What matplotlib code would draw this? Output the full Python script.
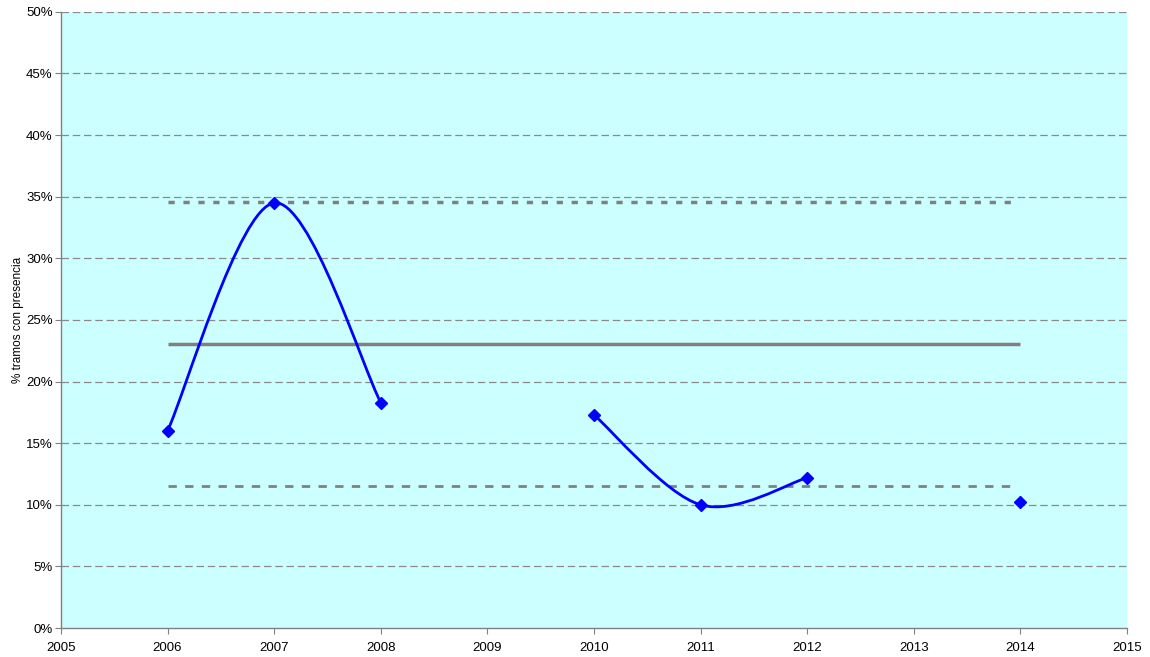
import numpy as np
import matplotlib.pyplot as plt
from matplotlib.path import Path
from matplotlib.patches import PathPatch
from matplotlib.ticker import FuncFormatter

# data (percent)
years_a = [2006, 2007, 2008]
pct_a = [16.0, 34.5, 18.3]
years_b = [2010, 2011, 2012]
pct_b = [17.3, 10.0, 12.2]
years_c = [2014]
pct_c = [10.2]

ref_years = [2006, 2014]
dash_years = [2006, 2013.95]
mean_pct = 23.05
upper_pct = 34.6
lower_pct = 11.5

plt.rcParams['font.family'] = ['Liberation Sans', 'DejaVu Sans']

def smooth_path(x, y):
    # Excel style smoothed line: cardinal spline as cubic bezier segments
    x = np.asarray(x, float)
    y = np.asarray(y, float)
    n = len(x)
    verts = [(x[0], y[0])]
    codes = [Path.MOVETO]
    for i in range(n - 1):
        x0, y0 = (x[i - 1], y[i - 1]) if i > 0 else (x[i], y[i])
        x3, y3 = (x[i + 2], y[i + 2]) if i + 2 < n else (x[i + 1], y[i + 1])
        c1 = (x[i] + (x[i + 1] - x0) / 6, y[i] + (y[i + 1] - y0) / 6)
        c2 = (x[i + 1] - (x3 - x[i]) / 6, y[i + 1] - (y3 - y[i]) / 6)
        verts += [c1, c2, (x[i + 1], y[i + 1])]
        codes += [Path.CURVE4] * 3
    return Path(verts, codes)

fig = plt.figure(figsize=(11.5, 6.57), dpi=100)
ax = fig.add_axes([0.053, 0.044, 0.927, 0.938])
ax.set_facecolor('#CCFFFF')

for yv in range(5, 51, 5):
    ax.axhline(yv, color='#8a8a8a', lw=0.9, ls=(0, (6, 3)), zorder=1)

ax.plot(dash_years, [upper_pct, upper_pct], color='#808080', lw=2.5, ls=(0, (1.8, 2.5)), zorder=2)
ax.plot(dash_years, [lower_pct, lower_pct], color='#808080', lw=2, ls=(0, (3, 3)), zorder=2)
ax.plot(ref_years, [mean_pct, mean_pct], color='#808080', lw=2.5, solid_capstyle='butt', zorder=2)

for xs, ys in [(years_a, pct_a), (years_b, pct_b)]:
    ax.add_patch(PathPatch(smooth_path(xs, ys), facecolor='none', edgecolor='#0000FF', lw=2, zorder=3))

all_x = years_a + years_b + years_c
all_y = pct_a + pct_b + pct_c
ax.plot(all_x, all_y, ls='none', marker='D', ms=6.5, color='#0000FF', zorder=4)

ax.set_xlim(2005, 2015)
ax.set_ylim(0, 50)
ax.set_xticks(range(2005, 2016))
ax.set_yticks(range(0, 51, 5))
ax.yaxis.set_major_formatter(FuncFormatter(lambda v, p: f'{int(v)}%'))
ax.tick_params(axis='both', direction='out', length=4, color='#808080', labelsize=9.5, pad=2)
ax.tick_params(axis='x', pad=6)
for s in ['top', 'right']:
    ax.spines[s].set_visible(False)
for s in ['left', 'bottom']:
    ax.spines[s].set_color('#808080')
    ax.spines[s].set_linewidth(1)
ax.set_ylabel('% tramos con presencia', fontsize=8.5, labelpad=1)

fig.savefig('out.png', dpi=100)
